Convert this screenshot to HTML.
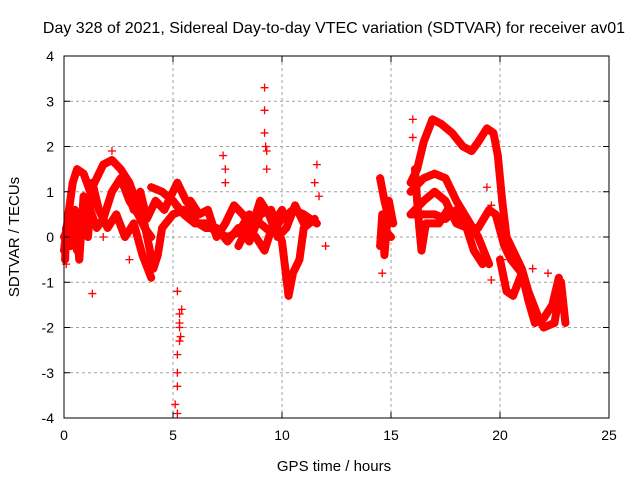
<!DOCTYPE html>
<html><head><meta charset="utf-8"><style>
body{margin:0;background:#fff}
svg{display:block;font-family:"Liberation Sans",sans-serif}
</style></head><body>
<svg id="chart" width="640" height="480">
<rect width="640" height="480" fill="#fff"/>
<g id="grid"></g>
<g id="marks"></g>
<g id="axes"></g>
<text x="334" y="33" font-size="16" text-anchor="middle">Day 328 of 2021, Sidereal Day-to-day VTEC variation (SDTVAR) for receiver av01</text>
<text x="334" y="471" font-size="15" text-anchor="middle">GPS time / hours</text>
<text transform="translate(19,237) rotate(-90)" font-size="15" text-anchor="middle">SDTVAR / TECUs</text>
</svg>
<script>
const xTicks=[0,5,10,15,20,25];
const yTicks=[-4,-3,-2,-1,0,1,2,3,4];
// tracks: [hour, value] pairs
const trackA=[[0,-0.3],[0.2,0.5],[0.4,1.2],[0.6,1.5],[0.9,1.4],[1.2,1.0],[1.5,1.3],[1.8,1.6],[2.2,1.7],[2.6,1.5],[3.0,1.2],[3.3,0.8],[3.6,0.5],[3.9,-0.2],[4.1,-0.7],[4.3,-0.4],[4.5,0.2],[5.0,0.5],[5.5,0.6],[6.0,0.4]];
const trackB=[[0,0.0],[0.3,0.3],[0.6,-0.3],[0.9,0.2],[1.2,0.6],[1.5,0.2],[1.8,0.4],[2.2,1.0],[2.6,1.3],[3.0,0.8],[3.4,0.5],[3.7,0.2],[4.0,0.0]];
const trackC=[[4.0,1.1],[4.5,1.0],[5.0,0.8],[5.5,0.5],[6.0,0.3],[6.5,0.3],[7.0,0.1],[7.5,0.0],[8.0,0.1],[8.5,0.5],[9.0,0.3],[9.5,0.1],[10.0,0.4],[10.5,0.6],[11.0,0.5],[11.6,0.3]];
const trackD=[[5.5,0.5],[6.0,0.35],[6.5,0.2],[7.0,0.2],[7.5,-0.1],[8.0,0.2],[8.5,-0.1],[9.0,0.5],[9.5,0.6],[10.0,-0.1],[10.3,-1.3],[10.5,-0.8],[10.8,-0.5],[11.0,0.2],[11.5,0.4]];
const trackE=[[15.9,1.2],[16.2,1.5],[16.5,2.1],[16.9,2.6],[17.3,2.5],[17.8,2.3],[18.3,2.0],[18.7,1.9],[19.0,2.1],[19.4,2.4],[19.7,2.3],[19.9,1.8],[20.1,0.8],[20.3,0.0],[20.6,-0.3],[21.0,-0.7],[21.3,-1.2],[21.7,-1.7],[22.0,-2.0],[22.5,-1.9],[22.8,-1.0],[23.0,-1.9]];
const trackF=[[15.9,1.0],[16.5,1.3],[17.0,1.4],[17.5,1.3],[18.0,0.8],[18.5,0.4],[19.0,0.0],[19.5,-0.6]];
const trackG=[[15.9,0.5],[16.5,0.8],[17.0,1.0],[17.5,0.8],[18.0,0.3],[18.5,0.2],[19.0,0.2],[19.5,0.6],[19.8,0.5],[20.2,-0.2],[20.5,-0.5],[21.0,-0.8]];
const trackH=[[15.9,0.5],[16.5,0.5],[17.0,0.5],[17.5,0.4],[18.0,0.6],[18.4,0.3],[18.8,-0.3],[19.2,-0.6]];
const trackI=[[20.0,-0.5],[20.3,-1.2],[20.6,-1.3],[21.0,-0.8],[21.3,-1.4],[21.6,-1.9],[22.0,-1.8],[22.4,-1.5],[22.7,-0.9]];
const trackJ=[[14.5,1.3],[14.7,0.8],[14.9,0.4],[14.6,-0.1],[14.8,0.1],[15.0,0.0]];
const trackK=[[5.8,0.8],[6.2,0.5],[6.6,0.6],[7.0,0.0],[7.4,0.3],[7.8,0.7],[8.2,0.5],[8.6,0.2],[9.0,0.8],[9.4,0.5],[9.8,0.0],[10.2,0.2],[10.6,0.7],[11.0,0.3]];
const trackL=[[8.0,-0.2],[8.4,0.2],[8.8,0.0],[9.2,-0.3],[9.6,0.3],[10.0,0.6]];
const trackM=[[0.05,-0.5],[0.1,0.2],[0.3,-0.2],[0.5,0.6],[0.7,-0.5],[0.9,0.9],[1.1,0.0],[1.3,1.2],[1.6,0.6],[2.0,0.2],[2.4,0.5],[2.8,0.0],[3.2,0.3],[3.6,-0.4],[4.0,-0.9]];
const trackN=[[2.8,1.2],[3.2,0.6],[3.5,1.0],[3.8,0.4],[4.2,0.8],[4.6,0.6],[5.2,1.2],[5.6,0.8],[6.1,0.5]];
const trackO=[[16.1,1.5],[16.2,0.8],[16.3,0.2],[16.4,-0.3],[16.6,0.3],[17.2,0.3],[17.6,0.6]];
const trackP=[[14.5,-0.2],[14.6,0.5],[14.7,-0.4],[14.9,0.8],[15.1,0.3]];
const scatter=[[1.3,-1.25],[5.2,-1.2],[5.3,-1.7],[5.3,-2.0],[5.3,-2.3],[5.2,-2.6],[5.2,-3.0],[5.2,-3.3],[5.1,-3.7],[5.2,-3.9],[5.4,-1.6],[5.3,-1.9],[5.35,-2.2],[9.2,3.3],[9.2,2.8],[9.2,2.3],[9.3,1.9],[9.3,1.5],[9.25,2.0],[7.3,1.8],[7.4,1.5],[7.4,1.2],[11.6,1.6],[11.5,1.2],[11.7,0.9],[14.6,-0.8],[16.0,2.6],[16.0,2.2],[19.4,1.1],[19.6,-0.95],[21.5,-0.7],[22.2,-0.8],[0.1,-0.6],[12.0,-0.2],[19.6,0.7],[2.2,1.9],[2.6,1.5],[1.8,-0.0],[3.0,-0.5],[20.1,0.2],[20.1,-0.5]];
const tracks=[trackA,trackB,trackC,trackD,trackE,trackF,trackG,trackH,trackI,trackJ,trackK,trackL,trackM,trackN,trackO,trackP];

const X0=64,X1=609,Y0=56,Y1=418;
const sx=h=>X0+(h-0)/25*(X1-X0);
const sy=v=>Y1-(v+4)/8*(Y1-Y0);
const NS='http://www.w3.org/2000/svg';
const mk=(t,a,p)=>{const e=document.createElementNS(NS,t);for(const k in a)e.setAttribute(k,a[k]);p.appendChild(e);return e;};
const grid=document.getElementById('grid'),axes=document.getElementById('axes'),marks=document.getElementById('marks');
xTicks.forEach(t=>{
  if(t>0&&t<25){const g=mk('line',{x1:sx(t),x2:sx(t),y1:Y0,y2:Y1,stroke:'#a0a0a0','stroke-dasharray':'3,3'},grid);
  
  }
  const l=mk('text',{x:sx(t),y:Y1+22,'font-size':14,'text-anchor':'middle'},axes);l.textContent=t;
  
  
  mk('line',{x1:sx(t),x2:sx(t),y1:Y1,y2:Y1-6,stroke:'#000'},axes);
  mk('line',{x1:sx(t),x2:sx(t),y1:Y0,y2:Y0+6,stroke:'#000'},axes);
});
yTicks.forEach(t=>{
  if(t>-4&&t<4){const g=mk('line',{x1:X0,x2:X1,y1:sy(t),y2:sy(t),stroke:'#a0a0a0','stroke-dasharray':'3,3'},grid);
  
  }
  const l=mk('text',{x:X0-10,y:sy(t)+5,'font-size':14,'text-anchor':'end'},axes);l.textContent=t;
  
  
  mk('line',{x1:X0,x2:X0+6,y1:sy(t),y2:sy(t),stroke:'#000'},axes);
  mk('line',{x1:X1,x2:X1-6,y1:sy(t),y2:sy(t),stroke:'#000'},axes);
});
const bd=mk('rect',{x:X0,y:Y0,width:X1-X0,height:Y1-Y0,fill:'none',stroke:'#000'},axes);


function cross(h,v){
  const x=sx(h),y=sy(v);
  const p=mk('path',{d:`M${x-4},${y}H${x+4}M${x},${y-4}V${y+4}`,stroke:'#f00','stroke-width':1.3},marks);
  
  
}
tracks.forEach(tr=>{
  const pl=mk('polyline',{points:tr.map(p=>sx(p[0])+','+sy(p[1])).join(' '),fill:'none',stroke:'#f00','stroke-width':8,'stroke-linejoin':'round','stroke-linecap':'round'},marks);
  
  
  tr.forEach(p=>cross(p[0],p[1]));
});
scatter.forEach(p=>cross(p[0],p[1]));
</script>
</body></html>
